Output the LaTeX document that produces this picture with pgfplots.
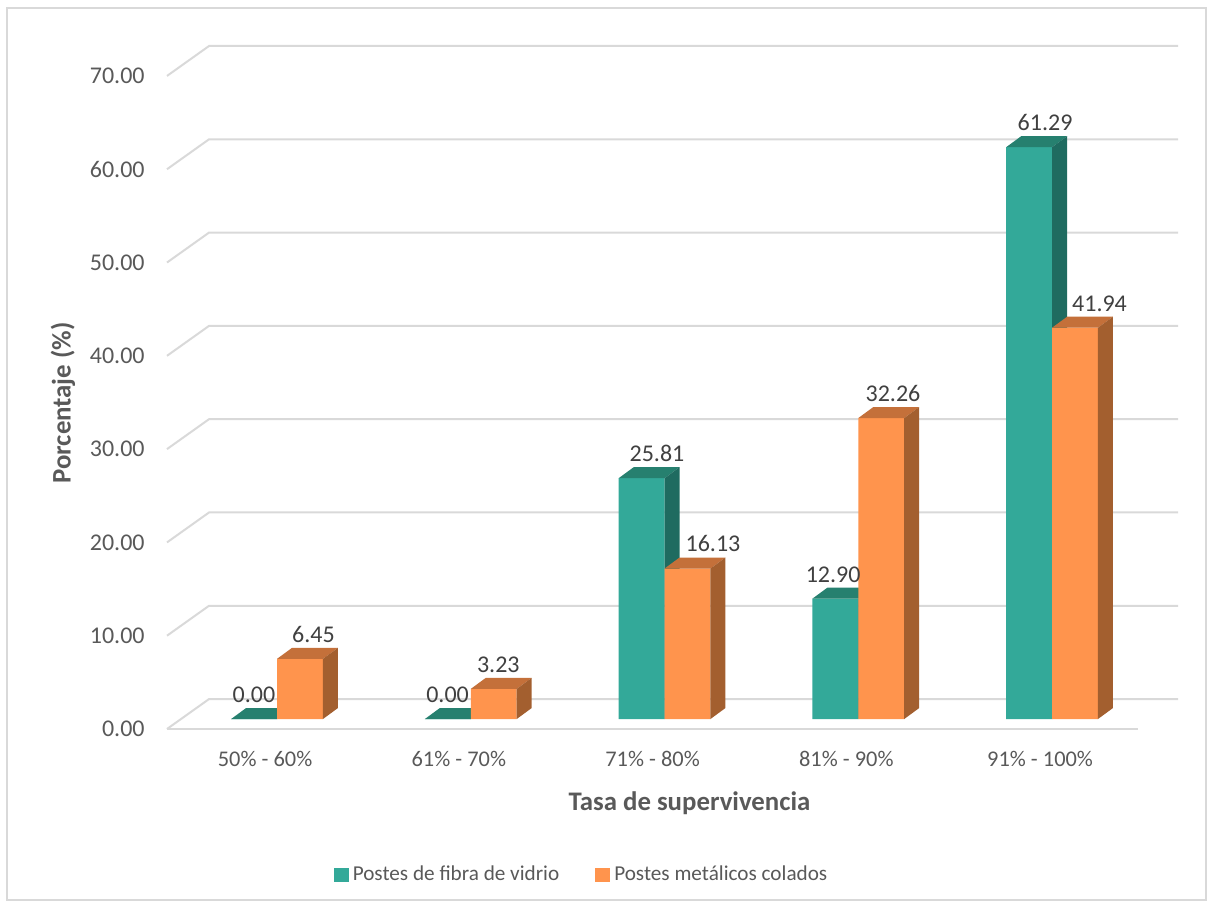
\documentclass[border=0pt]{standalone}
\usepackage{fontspec}
\setmainfont{Carlito}
\usepackage{pgfplots}
\usepackage{pgfplotstable}
\pgfplotsset{compat=1.18}
\definecolor{gfront}{HTML}{33A999}
\definecolor{gtop}{HTML}{26806F}
\definecolor{gside}{HTML}{1F6B60}
\definecolor{ofront}{HTML}{FF944D}
\definecolor{otop}{HTML}{C4703A}
\definecolor{oside}{HTML}{A35F2F}
\definecolor{gridc}{HTML}{D9D9D9}
\definecolor{txt}{HTML}{595959}
\definecolor{lbl}{HTML}{404040}

% bar data: category position, fibra de vidrio, metalicos colados
\pgfplotstableread{
x g o
0 0.00 6.45
1 0.00 3.23
2 25.81 16.13
3 12.90 32.26
4 61.29 41.94
}\bardata

% data labels: x position of the label, value, text
\pgfplotstableread{
x y lab
-0.119 0.00 0.00
0.188 6.45 6.45
0.880 0.00 0.00
1.142 3.23 3.23
1.961 25.81 25.81
2.250 16.13 16.13
2.870 12.90 12.90
3.179 32.26 32.26
3.964 61.29 61.29
4.245 41.94 41.94
}\labdata

% 3D faces (top and right side) of a bar: left edge, value, top colour, side colour
\newcommand\barfaces[4]{%
  \pgfmathsetmacro\xa{#1}%
  \pgfmathsetmacro\xb{#1+0.0774}%
  \pgfmathsetmacro\xc{#1+0.237}%
  \pgfmathsetmacro\xd{#1+0.237+0.0774}%
  \pgfmathsetmacro\ya{#2}%
  \pgfmathsetmacro\yb{#2+1.18}%
  \edef\tmp{%
    \noexpand\addplot[fill=#3,draw=none,forget plot] coordinates {(\xa,\ya)(\xb,\yb)(\xd,\yb)(\xc,\ya)};
    \noexpand\addplot[fill=#4,draw=none,forget plot] coordinates {(\xc,0)(\xd,1.18)(\xd,\yb)(\xc,\ya)};
  }\tmp}

\begin{document}
\begin{tikzpicture}
\useasboundingbox (0pt,0pt) rectangle (607pt,454pt);
\draw[gridc, line width=0.6pt] (3.5pt,4pt) rectangle (603pt,450pt);
\node[rotate=90, font=\fontsize{13.4}{16}\selectfont\bfseries, text=txt] at (31.5pt,252.5pt) {Porcentaje (\%)};
\node[anchor=base, font=\fontsize{13.4}{16}\selectfont\bfseries, text=txt] at (344.75pt,48.5pt) {Tasa de supervivencia};
\begin{axis}[
  at={(83.5pt,89.5pt)}, anchor=south west,
  scale only axis, width=505.5pt, height=341.5pt,
  xmin=-0.568, xmax=4.650, ymin=-1.07, ymax=72.14,
  clip=false,
  axis line style={draw=none},
  tick style={draw=none},
  xtick={0,1,2,3,4},
  xticklabels={50\% - 60\%, 61\% - 70\%, 71\% - 80\%, 81\% - 90\%, 91\% - 100\%},
  ytick={-1.07,8.93,18.93,28.93,38.93,48.93,58.93,68.93},
  yticklabels={0.00,10.00,20.00,30.00,40.00,50.00,60.00,70.00},
  xticklabel style={anchor=base, yshift=-19pt, xshift=-6pt, font=\fontsize{11.2}{13.4}\selectfont, text=txt},
  yticklabel style={anchor=east, inner sep=0pt, xshift=-11pt, font=\fontsize{12}{14}\selectfont, text=txt},
  legend style={at={(0.411,-0.2138)}, anchor=center, draw=none, fill=none,
    font=\fontsize{10.6}{12.7}\selectfont, text=txt, legend columns=2,
    /tikz/every even column/.append style={column sep=16pt}},
  legend cell align=left,
  legend image code/.code={\fill[#1] (0pt,-3.7pt) rectangle (7.5pt,3.7pt);},
]
% walls and floor
\addplot[gridc, line width=1pt, forget plot] coordinates {(-0.568,-1.07) (4.444,-1.07)};
\addplot[gridc, line width=1pt, forget plot] coordinates {(-0.568,-1.07) (-0.351,2.14) (4.650,2.14)};
\addplot[gridc, line width=1pt, forget plot] coordinates {(-0.568,8.93) (-0.351,12.14) (4.650,12.14)};
\addplot[gridc, line width=1pt, forget plot] coordinates {(-0.568,18.93) (-0.351,22.14) (4.650,22.14)};
\addplot[gridc, line width=1pt, forget plot] coordinates {(-0.568,28.93) (-0.351,32.14) (4.650,32.14)};
\addplot[gridc, line width=1pt, forget plot] coordinates {(-0.568,38.93) (-0.351,42.14) (4.650,42.14)};
\addplot[gridc, line width=1pt, forget plot] coordinates {(-0.568,48.93) (-0.351,52.14) (4.650,52.14)};
\addplot[gridc, line width=1pt, forget plot] coordinates {(-0.568,58.93) (-0.351,62.14) (4.650,62.14)};
\addplot[gridc, line width=1pt, forget plot] coordinates {(-0.568,68.93) (-0.351,72.14) (4.650,72.14)};
% fibra de vidrio
\addplot[ybar, bar width=0.237, bar shift=-0.1185, fill=gfront, draw=none] table[x=x,y=g] {\bardata};
\addlegendentry{Postes de fibra de vidrio}
\barfaces{-0.237}{0.00}{gtop}{gside}
\barfaces{0.763}{0.00}{gtop}{gside}
\barfaces{1.763}{25.81}{gtop}{gside}
\barfaces{2.763}{12.90}{gtop}{gside}
\barfaces{3.763}{61.29}{gtop}{gside}
% metalicos colados
\addplot[ybar, bar width=0.237, bar shift=0.1185, fill=ofront, draw=none] table[x=x,y=o] {\bardata};
\addlegendentry{Postes metálicos colados}
\barfaces{0}{6.45}{otop}{oside}
\barfaces{1}{3.23}{otop}{oside}
\barfaces{2}{16.13}{otop}{oside}
\barfaces{3}{32.26}{otop}{oside}
\barfaces{4}{41.94}{otop}{oside}
% data labels
\addplot[draw=none, mark=none, forget plot, nodes near coords, point meta=explicit symbolic,
  every node near coord/.append style={anchor=south, inner sep=0pt, yshift=8pt,
    font=\fontsize{12}{14}\selectfont, text=lbl}]
  table[x=x, y=y, meta=lab] {\labdata};
\end{axis}
\end{tikzpicture}
\end{document}
